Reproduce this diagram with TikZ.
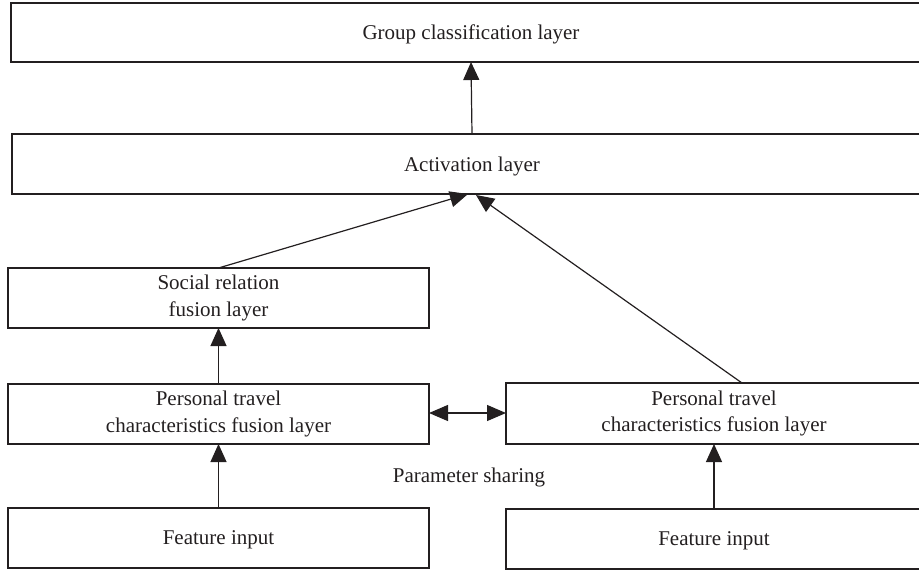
\documentclass[tikz,border=0pt]{standalone}
\usepackage{fontspec}
\setmainfont{Liberation Serif}
\usetikzlibrary{arrows.meta}
\definecolor{ink}{HTML}{231F20}
\tikzset{
  layerbox/.style={draw=ink, line width=1.2pt, inner sep=0pt, outer sep=0pt, align=center,
    font=\fontsize{21}{26.5}\selectfont, text=ink},
  oneline/.style={text depth=0pt},
  arr/.style={draw=ink, line width=1.2pt, -{Triangle[length=18pt,width=16pt]}},
  darr/.style={draw=ink, line width=1.2pt, {Triangle[length=19pt,width=16pt]}-{Triangle[length=19pt,width=16pt]}},
  plain/.style={font=\fontsize{21}{26}\selectfont, text=ink, text depth=0pt}
}
\begin{document}
\begin{tikzpicture}[x=1pt,y=-1pt]
\useasboundingbox (0,0) rectangle (919,571);
\clip (0,0) rectangle (919,571);
\node[layerbox, oneline, minimum width=920pt, minimum height=59pt] (grp) at (471,32.5) {Group classification layer};
\node[layerbox, oneline, minimum width=920pt, minimum height=60pt] (act) at (472,164) {Activation layer};
\node[layerbox, minimum width=421pt, minimum height=60pt] (soc) at (218.5,298) {Social relation\\fusion layer};
\node[layerbox, minimum width=421pt, minimum height=60pt] (perL) at (218.5,414) {Personal travel\\characteristics fusion layer};
\node[layerbox, oneline, minimum width=421pt, minimum height=60pt] (feaL) at (218.5,538) {Feature input};
\node[layerbox, minimum width=416pt, minimum height=61pt] (perR) at (714,413.5) {Personal travel\\characteristics fusion layer};
\node[layerbox, oneline, minimum width=416pt, minimum height=60pt] (feaR) at (714,539) {Feature input};
\node[plain] (param) at (469,475) {Parameter sharing};
\coordinate (actL) at (468,194);
\coordinate (actR) at (476,195);
\coordinate (perRtop) at (742,383);
\coordinate (dblL) at (429,413);
\coordinate (dblR) at (506,413);
\draw[arr] (act.north) -- (grp.south);
\draw[arr] (soc.north) -- (actL);
\draw[arr] (perRtop) -- (actR);
\draw[arr] (perL.north) -- (soc.south);
\draw[arr] (feaL.north) -- (perL.south);
\draw[arr] (feaR.north) -- (perR.south);
\draw[darr] (dblL) -- (dblR);
\end{tikzpicture}
\end{document}
